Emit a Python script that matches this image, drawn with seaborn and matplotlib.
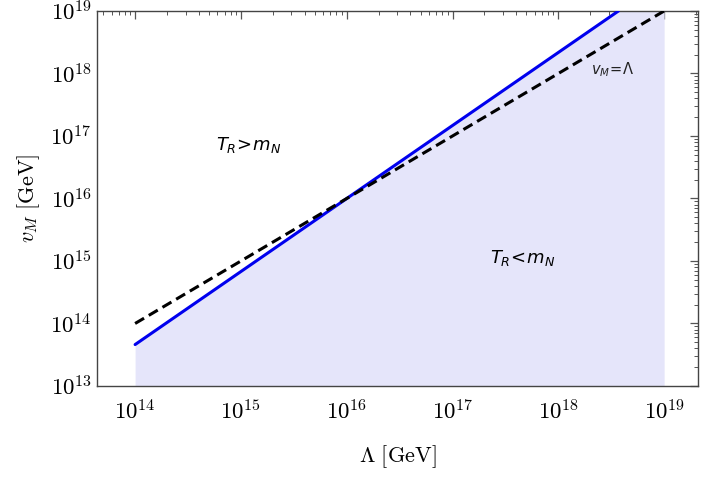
import numpy as np
import pandas as pd
import matplotlib
matplotlib.use("Agg")
import matplotlib.pyplot as plt
import seaborn as sns
from matplotlib.ticker import LogLocator, FixedLocator, NullFormatter

# Data
lam_blue = [1e14, 3.7e18]
vm_blue = [4.6e13, 1e19]
lam_dash = [1e14, 1e19]
vm_dash = [1e14, 1e19]
fill_x = [1e14, 3.7e18, 1e19]
fill_y = [4.6e13, 1e19, 1e19]
xticks = [1e14, 1e15, 1e16, 1e17, 1e18, 1e19]
yticks = [1e13, 1e14, 1e15, 1e16, 1e17, 1e18, 1e19]

sns.set_style("white")
plt.rcParams['mathtext.fontset'] = 'cm'
plt.rcParams['font.family'] = ['DejaVu Sans']
plt.rcParams['text.color'] = 'black'
plt.rcParams['axes.labelcolor'] = 'black'
plt.rcParams['xtick.labelcolor'] = 'black'
plt.rcParams['ytick.labelcolor'] = 'black'

fig = plt.figure(figsize=(7.01, 4.78), dpi=100)
ax = fig.add_axes([0.1384, 0.1925, 0.8573, 0.7845])

ax.fill_between(fill_x, fill_y, 1e13, color='#e5e5fa', lw=0, zorder=1)
df_b = pd.DataFrame({'x': lam_blue, 'y': vm_blue})
df_d = pd.DataFrame({'x': lam_dash, 'y': vm_dash})
sns.lineplot(data=df_b, x='x', y='y', ax=ax, color='#0000ee', lw=2.2, zorder=3)
sns.lineplot(data=df_d, x='x', y='y', ax=ax, color='black', lw=2.2, zorder=4,
             linestyle=(0, (3.4, 1.8)))

ax.set_xscale('log')
ax.set_yscale('log')
ax.set_xlim(10**13.64, 10**19.32)
ax.set_ylim(1e13, 1e19)

ax.xaxis.set_major_locator(FixedLocator(xticks))
ax.yaxis.set_major_locator(FixedLocator(yticks))
ax.set_xticklabels([r'$10^{%d}$' % int(np.log10(v)) for v in xticks])
ax.set_yticklabels([r'$10^{%d}$' % int(np.log10(v)) for v in yticks])
ax.xaxis.set_minor_locator(LogLocator(base=10, subs=np.arange(2, 10), numticks=100))
ax.yaxis.set_minor_locator(LogLocator(base=10, subs=np.arange(2, 10), numticks=100))
ax.xaxis.set_minor_formatter(NullFormatter())
ax.yaxis.set_minor_formatter(NullFormatter())

ax.tick_params(which='both', direction='in', top=True, right=True, labelsize=16.5,
               color='#555555', labelcolor='black')
ax.tick_params(which='major', length=6, width=0.9)
ax.tick_params(which='minor', length=3, width=0.7)
ax.tick_params(axis='x', pad=10)
for s in ax.spines.values():
    s.set_color('#444444')
    s.set_linewidth(1.0)

ax.set_xlabel(r'$\Lambda\ \mathrm{[GeV]}$', fontsize=16, labelpad=14, color='black')
ax.set_ylabel(r'$v_M\ \mathrm{[GeV]}$', fontsize=16, labelpad=6, color='black')

ax.text(10**15.07, 10**16.86, r'$T_R\!>\!m_N$', fontsize=13, ha='center', va='center',
        math_fontfamily='dejavusans', color='black')
ax.text(10**17.66, 10**15.05, r'$T_R\!<\!m_N$', fontsize=13, ha='center', va='center',
        math_fontfamily='dejavusans', color='black')
ax.text(10**18.51, 10**18.06, r'$v_M\!=\!\Lambda$', fontsize=10.5, ha='center', va='center',
        math_fontfamily='dejavusans', color='#222222')

ax.grid(False)
fig.savefig('out.png', dpi=100)
